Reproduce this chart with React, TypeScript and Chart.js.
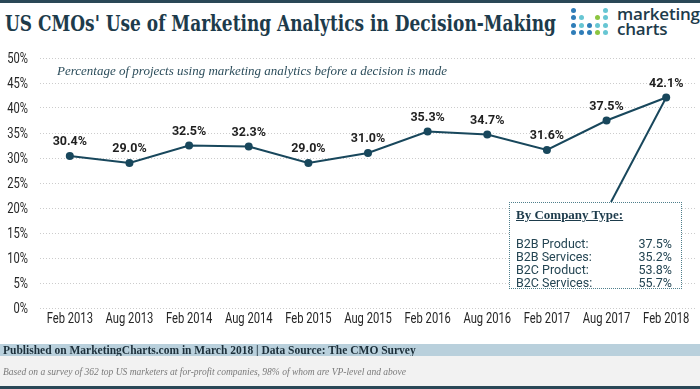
import React, { useEffect, useLayoutEffect, useRef } from "react";
import { Chart, registerables } from "chart.js";

Chart.register(...registerables);

const categories = ["Feb 2013", "Aug 2013", "Feb 2014", "Aug 2014", "Feb 2015", "Aug 2015", "Feb 2016", "Aug 2016", "Feb 2017", "Aug 2017", "Feb 2018"];
const shareValues = [30.4, 29.0, 32.5, 32.3, 29.0, 31.0, 35.3, 34.7, 31.6, 37.5, 42.1];
const yMin = 0;
const yMax = 50;
const yStep = 5;
const breakdownLabels = ["B2B Product:", "B2B Services:", "B2C Product:", "B2C Services:"];
const breakdownValues = [37.5, 35.2, 53.8, 55.7];

const DARK = "#1d3b4b";
const LINE = "#18475c";

const BOX = { left: 509, top: 202, width: 173, height: 87 };
const ANCHOR_X = 611;

const DOT_BLUE = "#2f7db8";
const DOT_TEAL = "#67c6d3";
const DOT_GREEN = "#8cc540";
const logoDots: [number, number, string][] = [
  [0, 0, DOT_BLUE], [0, 4, DOT_TEAL],
  [1, 0, DOT_BLUE], [1, 1, DOT_TEAL], [1, 3, DOT_GREEN], [1, 4, DOT_TEAL],
  [2, 0, DOT_BLUE], [2, 1, DOT_TEAL], [2, 2, DOT_BLUE], [2, 3, DOT_TEAL], [2, 4, DOT_TEAL],
  [3, 0, DOT_BLUE], [3, 1, DOT_BLUE], [3, 2, DOT_BLUE], [3, 3, DOT_GREEN], [3, 4, DOT_TEAL],
];

const labelPlugin = {
  id: "valueLabels",
  afterDatasetsDraw(chart: any) {
    const ctx = chart.ctx;
    const meta = chart.getDatasetMeta(0);
    ctx.save();
    const last = meta.data[meta.data.length - 1];
    ctx.strokeStyle = LINE;
    ctx.lineWidth = 2;
    ctx.beginPath();
    ctx.moveTo(last.x, last.y);
    ctx.lineTo(ANCHOR_X, BOX.top);
    ctx.stroke();
    ctx.font = "bold 12.5px Roboto, sans-serif";
    ctx.fillStyle = "#1f1f1f";
    ctx.textAlign = "center";
    ctx.textBaseline = "middle";
    meta.data.forEach((pt: any, i: number) => {
      ctx.fillText(shareValues[i].toFixed(1) + "%", pt.x, pt.y - 14);
    });
    ctx.restore();
  },
};

// Tick labels drawn in a horizontally condensed Roboto (no condensed face is installed)
const tickPlugin = {
  id: "condensedTicks",
  afterDraw(chart: any) {
    const ctx = chart.ctx;
    const xs = chart.scales.x;
    const ys = chart.scales.y;
    const area = chart.chartArea;
    const sx = 0.8;
    ctx.save();
    ctx.font = "14px Roboto, sans-serif";
    ctx.fillStyle = "#262626";
    ctx.textBaseline = "middle";
    ys.ticks.forEach((t: any) => {
      const py = ys.getPixelForValue(t.value);
      ctx.save();
      ctx.translate(area.left - 12, py + 1);
      ctx.scale(sx, 1);
      ctx.textAlign = "right";
      ctx.fillText(t.value + "%", 0, 0);
      ctx.restore();
    });
    categories.forEach((c, i) => {
      const px = xs.getPixelForValue(i);
      ctx.save();
      ctx.translate(px, area.bottom + 11);
      ctx.scale(sx, 1);
      ctx.textAlign = "center";
      ctx.fillText(c, 0, 0);
      ctx.restore();
    });
    ctx.restore();
  },
};

export default function App() {
  const canvasRef = useRef<HTMLCanvasElement | null>(null);
  const titleRef = useRef<HTMLSpanElement | null>(null);

  useLayoutEffect(() => {
    document.body.style.margin = "0";
    const el = titleRef.current;
    if (el) {
      const w = el.getBoundingClientRect().width;
      if (w > 0) el.style.transform = `scaleX(${551 / w})`;
    }
  }, []);

  useEffect(() => {
    if (!canvasRef.current) return;
    const chart = new Chart(canvasRef.current, {
      type: "line",
      data: {
        labels: categories,
        datasets: [
          {
            data: shareValues,
            borderColor: LINE,
            backgroundColor: LINE,
            borderWidth: 2,
            pointRadius: 4,
            pointBackgroundColor: LINE,
            pointBorderWidth: 0,
            tension: 0,
          },
        ],
      },
      options: {
        responsive: false,
        animation: false,
        layout: { padding: { top: 58, right: 2, bottom: 61, left: 0 } },
        plugins: { legend: { display: false }, tooltip: { enabled: false } },
        scales: {
          x: {
            offset: true,
            grid: { display: false, drawTicks: false },
            border: { display: false },
            ticks: { display: false, autoSkip: false },
            afterFit: (s: any) => { s.height = 20; },
          },
          y: {
            min: yMin,
            max: yMax,
            grid: { color: "#cccccc", drawTicks: false, lineWidth: 1 },
            border: { display: false, dash: [1, 2] },
            ticks: { display: false, stepSize: yStep },
            afterFit: (s: any) => { s.width = 40; },
          },
        },
      },
      plugins: [labelPlugin, tickPlugin],
    });
    return () => chart.destroy();
  }, []);

  return (
    <div style={{ position: "absolute", left: 0, top: 0, width: 700, height: 389, background: "#fff", overflow: "hidden" }}>
      <div style={{ position: "absolute", left: 0, top: 0, width: 700, height: 3, background: "#2a4857" }} />
      <div style={{ position: "absolute", left: 5, top: 8, whiteSpace: "nowrap", height: 30 }}>
        <span
          ref={titleRef}
          style={{ display: "inline-block", transformOrigin: "left center", fontFamily: "'DejaVu Serif', serif", fontWeight: 700, fontSize: 22, color: DARK, lineHeight: "30px" }}
        >
          US CMOs' Use of Marketing Analytics in Decision-Making
        </span>
      </div>
      {logoDots.map(([r, c, col], i) => (
        <div key={i} style={{ position: "absolute", left: 571 + c * 8, top: 8 + r * 7.4, width: 5, height: 5, borderRadius: "50%", background: col }} />
      ))}
      <div style={{ position: "absolute", left: 617, top: 6, fontFamily: "'Open Sans', sans-serif", fontWeight: 600, fontSize: 17, lineHeight: "15px", color: DARK, letterSpacing: -0.2 }}>
        marketing
        <br />
        charts
      </div>
      <canvas ref={canvasRef} width={700} height={389} style={{ position: "absolute", left: 0, top: 0 }} />
      <div style={{ position: "absolute", left: 57, top: 63, fontFamily: "'Liberation Serif', serif", fontStyle: "italic", fontSize: 13, color: "#2c4d5b", whiteSpace: "nowrap" }}>
        Percentage of projects using marketing analytics before a decision is made
      </div>
      <div style={{ position: "absolute", left: BOX.left, top: BOX.top, width: BOX.width, height: BOX.height, boxSizing: "border-box", border: "1.5px dotted #4e7f8c", background: "#fff", padding: "4px 9px 0 6px", color: DARK }}>
        <div style={{ fontFamily: "'Liberation Serif', serif", fontWeight: 700, fontSize: 13, textDecoration: "underline", lineHeight: "16px" }}>By Company Type:</div>
        <div style={{ height: 14 }} />
        {breakdownLabels.map((lab, i) => (
          <div key={lab} style={{ display: "flex", justifyContent: "space-between", fontFamily: "Roboto, sans-serif", fontSize: 12.5, lineHeight: "13px", color: "#244553" }}>
            <span>{lab}</span>
            <span>{breakdownValues[i].toFixed(1)}%</span>
          </div>
        ))}
      </div>
      <div style={{ position: "absolute", left: 0, top: 344, width: 700, height: 12, background: "#b9d0dc" }} />
      <div style={{ position: "absolute", left: 3, top: 343, fontFamily: "'Liberation Serif', serif", fontWeight: 700, fontSize: 11.5, lineHeight: "14px", color: "#1c2f3a", whiteSpace: "nowrap" }}>
        Published on MarketingCharts.com in March 2018 | Data Source: The CMO Survey
      </div>
      <div style={{ position: "absolute", left: 0, top: 356, width: 700, height: 30, background: "#f2f2f2" }} />
      <div style={{ position: "absolute", left: 3, top: 366, fontFamily: "'Liberation Serif', serif", fontStyle: "italic", fontSize: 9.5, lineHeight: "12px", color: "#7a7a7a", whiteSpace: "nowrap" }}>
        Based on a survey of 362 top US marketers at for-profit companies, 98% of whom are VP-level and above
      </div>
      <div style={{ position: "absolute", left: 0, top: 386, width: 700, height: 3, background: "#2a4857" }} />
    </div>
  );
}
